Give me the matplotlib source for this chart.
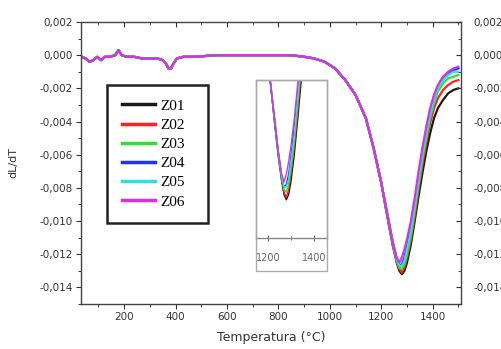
import matplotlib
matplotlib.use('Agg')
import matplotlib.pyplot as plt
from matplotlib.ticker import MultipleLocator, FuncFormatter
from matplotlib.patches import Rectangle

# ---- data ----
# shared part: all six curves sit on top of each other up to ~1200 C
T_common = [35, 50, 65, 80, 95, 110, 125, 145, 165, 178, 190, 210, 240, 270,
            300, 330, 350, 362, 372, 382, 392, 405, 430, 480, 550, 650, 750,
            850, 900, 940, 980, 1020, 1060, 1100, 1140, 1170, 1200]
dl_common = [-0.0001, -0.0002, -0.0004, -0.0003, -0.0001, -0.0003, -0.0001,
             -0.0001, 0.0000, 0.0003, 0.0000, -0.0001, -0.0001, -0.0002,
             -0.0002, -0.0002, -0.0003, -0.0005, -0.0008, -0.0008, -0.0005,
             -0.0002, -0.0001, -0.0001, 0.0000, 0.0000, 0.0000, 0.0000,
             -0.0001, -0.0002, -0.0004, -0.0008, -0.0015, -0.0024, -0.0038,
             -0.0056, -0.0077]

# shrinkage peak, where the curves split up
T_peak = [1215, 1230, 1245, 1260, 1270, 1280, 1290, 1300, 1315, 1330, 1345,
          1360, 1375, 1390, 1405, 1420, 1440, 1460, 1480, 1500]
z01 = [-0.0090, -0.0103, -0.0115, -0.0125, -0.0130, -0.0132, -0.0130, -0.0125,
       -0.0114, -0.0100, -0.0085, -0.0071, -0.0058, -0.0047, -0.0038, -0.0032,
       -0.0027, -0.0023, -0.0021, -0.0020]
z02 = [-0.0090, -0.0102, -0.0114, -0.0124, -0.0129, -0.0131, -0.0128, -0.0122,
       -0.0111, -0.0097, -0.0081, -0.0066, -0.0053, -0.0041, -0.0032, -0.0026,
       -0.0021, -0.0018, -0.0016, -0.0015]
z03 = [-0.0090, -0.0102, -0.0114, -0.0124, -0.0128, -0.0129, -0.0126, -0.0120,
       -0.0109, -0.0094, -0.0078, -0.0063, -0.0050, -0.0038, -0.0029, -0.0022,
       -0.0017, -0.0014, -0.0013, -0.0012]
z04 = [-0.0089, -0.0101, -0.0113, -0.0123, -0.0127, -0.0126, -0.0122, -0.0115,
       -0.0103, -0.0089, -0.0073, -0.0058, -0.0045, -0.0034, -0.0025, -0.0019,
       -0.0014, -0.0011, -0.0009, -0.0008]
z05 = [-0.0089, -0.0101, -0.0113, -0.0123, -0.0127, -0.0127, -0.0124, -0.0117,
       -0.0106, -0.0091, -0.0075, -0.0060, -0.0047, -0.0036, -0.0027, -0.0020,
       -0.0015, -0.0012, -0.0010, -0.0010]
z06 = [-0.0089, -0.0101, -0.0113, -0.0122, -0.0125, -0.0122, -0.0117, -0.0111,
       -0.0100, -0.0086, -0.0070, -0.0056, -0.0043, -0.0032, -0.0024, -0.0018,
       -0.0013, -0.0010, -0.0008, -0.0007]

labels = ['Z01', 'Z02', 'Z03', 'Z04', 'Z05', 'Z06']
colors = ['#1a1a1a', '#ff2020', '#33dd33', '#2030ff', '#30e0e0', '#dd30dd']
series = [z01, z02, z03, z04, z05, z06]

W, H = 502, 349
fig = plt.figure(figsize=(W / 100, H / 100), dpi=100)
fig.patch.set_facecolor('white')

def fx(px):
    return px / W

def fy(py):
    return 1 - py / H

ax = fig.add_axes([fx(81), fy(304), fx(461) - fx(81), fy(22) - fy(304)])
T_all = T_common + T_peak
for vals, c, lab in zip(series, colors, labels):
    ax.plot(T_all, dl_common + vals, color=c, lw=1.6, label=lab)

ax.set_xlim(32, 1510)
ax.set_ylim(-0.015, 0.002)

grey = '#333333'
def comma(v, pos):
    s = '%.3f' % v
    if s == '-0.000':
        s = '0.000'
    return s.replace('.', ',')

ax.xaxis.set_major_locator(MultipleLocator(200))
ax.xaxis.set_minor_locator(MultipleLocator(100))
ax.yaxis.set_major_locator(MultipleLocator(0.002))
ax.yaxis.set_minor_locator(MultipleLocator(0.001))
ax.yaxis.set_major_formatter(FuncFormatter(comma))
ax.xaxis.set_major_formatter(FuncFormatter(lambda v, p: '%d' % v))
ax.tick_params(which='both', direction='out', colors=grey, labelsize=7.5,
               top=False, right=False)
ax.tick_params(which='major', length=3.5, width=0.8, pad=2.5)
ax.tick_params(which='minor', length=2, width=0.7)
for s in ax.spines.values():
    s.set_color('#444444')
    s.set_linewidth(1.0)

# right hand copy of the y axis (labels run off the picture edge), top ticks inward
ax2 = ax.twinx()
ax2.set_ylim(ax.get_ylim())
ax2.yaxis.set_major_locator(MultipleLocator(0.002))
ax2.yaxis.set_minor_locator(MultipleLocator(0.001))
ax2.yaxis.set_major_formatter(FuncFormatter(comma))
ax2.tick_params(which='both', direction='in', colors=grey, labelsize=7.5)
ax2.tick_params(which='major', length=3.5, pad=9)
ax2.tick_params(which='minor', length=2)
ax2.xaxis.set_visible(True)
ax2.tick_params(axis='x', which='both', bottom=False, top=True,
                labelbottom=False, labeltop=False, direction='in')
for s in ax2.spines.values():
    s.set_visible(False)

ax.set_xlabel('Temperatura (°C)', fontsize=9, color=grey)
ax.xaxis.set_label_coords(0.5, -0.095)
ax.set_ylabel('dL/dT', fontsize=8, color=grey)
ax.yaxis.set_label_coords(-0.165, 0.5)

leg = ax.legend(loc='upper left', bbox_to_anchor=(fx(107), fy(88), fx(208) - fx(107), 0.01),
                bbox_transform=fig.transFigure, mode='expand', borderaxespad=0,
                prop={'family': 'Liberation Serif', 'size': 11},
                handlelength=2.2, handletextpad=0.35, labelspacing=0.36,
                borderpad=0.95, fancybox=False, framealpha=1)
leg.get_frame().set_edgecolor('#222222')
leg.get_frame().set_linewidth(1.8)
for ln in leg.get_lines():
    ln.set_linewidth(2.5)

# zoomed inset of the peak
ins = fig.add_axes([fx(256), fy(238), fx(327) - fx(256), fy(80) - fy(238)])
for vals, c in zip(series, colors):
    ins.plot(T_all, dl_common + vals, color=c, lw=1.0)
ins.set_xlim(1148, 1457)
ins.set_ylim(-0.0147, -0.0085)
ins.set_yticks([])
ins.set_xticks([1200, 1400])
ins.xaxis.set_minor_locator(MultipleLocator(100))
ins.tick_params(which='both', direction='inout', colors='#666666', labelsize=7, pad=9)
ins.tick_params(which='major', length=4)
ins.tick_params(which='minor', length=3)
for name, s in ins.spines.items():
    s.set_color('#aaaaaa')
    s.set_linewidth(1.0)
ins.spines['bottom'].set_color('#888888')
fig.patches.append(Rectangle((fx(256), fy(271)), fx(327) - fx(256), fy(80) - fy(271),
                             transform=fig.transFigure, fill=False,
                             edgecolor='#aaaaaa', lw=1.0))

fig.savefig('out.png', dpi=100)
